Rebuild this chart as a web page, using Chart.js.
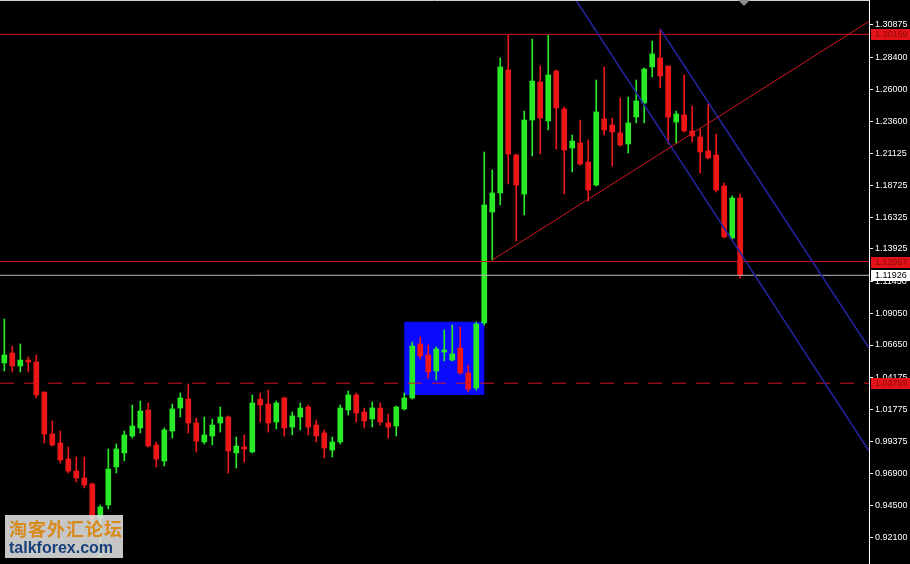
<!DOCTYPE html>
<html>
<head>
<meta charset="utf-8">
<script src="https://cdn.jsdelivr.net/npm/chart.js@4.4.1/dist/chart.umd.min.js"></script>
<style>
    body { margin: 0; background: #000; }
    #wrap { position: relative; width: 910px; height: 564px; overflow: hidden; background: #000; }
    #logo {
        position: absolute; left: 5px; top: 515px; width: 118px; height: 43px;
        background: rgba(225, 225, 225, 0.88);
    }
    #logo .cn {
        position: absolute; left: 4px; top: 2px; font-family: "Noto Sans CJK SC"; font-weight: bold;
        font-size: 18px; letter-spacing: 1px; color: #d98a1c; line-height: 22px;
    }
    #logo .en {
        position: absolute; left: 4px; top: 24px; font-family: "Liberation Sans"; font-weight: bold;
        font-size: 16px; color: #173f7a; line-height: 18px;
    }
</style>
</head>
<body>
<div id="wrap">
    <canvas id="myChart" width="910" height="564"></canvas>
    <div id="logo"><div class="cn">淘客外汇论坛</div><div class="en">talkforex.com</div></div>
</div>
<script>
// candles, oldest first
const opens = [1.0529, 1.0604, 1.0506, 1.0551, 1.0536, 1.0309, 0.9991, 0.9923, 0.9802, 0.9711,
    0.9658, 0.9613, 0.9355, 0.9454, 0.9742, 0.9848, 0.9976, 1.0037, 1.0173, 0.9908,
    0.9787, 1.0014, 1.0188, 1.0256, 1.0075, 0.9931, 0.9976, 1.0075, 1.0120, 0.9848,
    0.9893, 0.9855, 1.0256, 1.0218, 1.0082, 1.0264, 1.0044, 1.0120, 1.0196, 1.0059,
    0.9999, 0.9870, 0.9931, 1.0173, 1.0287, 1.0158, 1.0105, 1.0188, 1.0075, 1.0052,
    1.0181, 1.0264, 1.0673, 1.0589, 1.0468, 1.0612, 1.0551, 1.0642, 1.0453, 1.0340,
    1.0832, 1.1672, 1.1816, 1.2747, 1.2103, 1.1808, 1.2368, 1.2656, 1.2361, 1.2739,
    1.2452, 1.2156, 1.2194, 1.2050, 1.1876, 1.2376, 1.2330, 1.2270, 1.2187, 1.2391,
    1.2497, 1.2770, 1.2838, 1.2777, 1.2353, 1.2406, 1.2285, 1.2240, 1.2134, 1.2103,
    1.1869, 1.1475, 1.1778];
const highs = [1.0862, 1.0657, 1.0673, 1.0574, 1.0589, 1.0309, 1.0090, 1.0014, 0.9893, 0.9817,
    0.9817, 0.9620, 0.9454, 0.9878, 0.9916, 1.0014, 1.0211, 1.0241, 1.0226, 0.9931,
    1.0037, 1.0218, 1.0302, 1.0370, 1.0112, 1.0120, 1.0105, 1.0196, 1.0128, 0.9969,
    0.9984, 1.0287, 1.0302, 1.0324, 1.0241, 1.0271, 1.0158, 1.0226, 1.0211, 1.0097,
    1.0022, 0.9969, 1.0211, 1.0317, 1.0302, 1.0188, 1.0234, 1.0226, 1.0143, 1.0203,
    1.0302, 1.0688, 1.0726, 1.0665, 1.0650, 1.0779, 1.0816, 1.0801, 1.0514, 1.0839,
    1.2126, 1.1990, 1.2838, 1.3012, 1.2111, 1.2436, 1.2981, 1.2777, 1.3012, 1.2747,
    1.2467, 1.2255, 1.2368, 1.2217, 1.2671, 1.2770, 1.2383, 1.2535, 1.2542, 1.2671,
    1.2762, 1.2966, 1.3057, 1.2777, 1.2436, 1.2709, 1.2474, 1.2300, 1.2489, 1.2262,
    1.1891, 1.1793, 1.1808];
const lows = [1.0468, 1.0461, 1.0461, 1.0461, 1.0264, 0.9923, 0.9900, 0.9772, 0.9696, 0.9628,
    0.9583, 0.9302, 0.9068, 0.9424, 0.9696, 0.9787, 0.9961, 0.9999, 0.9893, 0.9742,
    0.9749, 0.9961, 1.0120, 0.9999, 0.9855, 0.9916, 0.9908, 1.0006, 0.9696, 0.9734,
    0.9779, 0.9848, 1.0082, 1.0006, 1.0029, 0.9976, 0.9984, 1.0022, 0.9984, 0.9931,
    0.9810, 0.9817, 0.9916, 1.0135, 1.0082, 1.0037, 1.0044, 1.0059, 0.9961, 0.9976,
    1.0173, 1.0256, 1.0559, 1.0415, 1.0400, 1.0544, 1.0544, 1.0445, 1.0309, 1.0324,
    1.0816, 1.1308, 1.1725, 1.1884, 1.1452, 1.1649, 1.2096, 1.2111, 1.2293, 1.2149,
    1.1808, 1.1975, 1.2028, 1.1755, 1.1869, 1.2255, 1.2020, 1.2171, 1.2118, 1.2346,
    1.2346, 1.2694, 1.2611, 1.2187, 1.2194, 1.2277, 1.2202, 1.1967, 1.2073, 1.1823,
    1.1475, 1.1467, 1.1172];
const closes = [1.0589, 1.0506, 1.0551, 1.0536, 1.0287, 0.9991, 0.9908, 0.9794, 0.9711, 0.9658,
    0.9605, 0.9348, 0.9439, 0.9726, 0.9878, 0.9984, 1.0052, 1.0165, 0.9900, 0.9802,
    1.0022, 1.0181, 1.0264, 1.0075, 0.9938, 0.9984, 1.0059, 1.0120, 0.9863, 0.9900,
    0.9878, 1.0226, 1.0211, 1.0075, 1.0226, 1.0037, 1.0128, 1.0188, 1.0044, 0.9976,
    0.9885, 0.9931, 1.0188, 1.0287, 1.0150, 1.0090, 1.0188, 1.0082, 1.0044, 1.0196,
    1.0264, 1.0657, 1.0582, 1.0461, 1.0635, 1.0627, 1.0597, 1.0453, 1.0332, 1.0824,
    1.1725, 1.1816, 1.2770, 1.2111, 1.1876, 1.2368, 1.2663, 1.2383, 1.2709, 1.2459,
    1.2141, 1.2209, 1.2035, 1.1838, 1.2429, 1.2293, 1.2277, 1.2179, 1.2346, 1.2512,
    1.2754, 1.2868, 1.2701, 1.2391, 1.2414, 1.2285, 1.2247, 1.2126, 1.2081, 1.1838,
    1.1483, 1.1778, 1.1193];

// price axis labels
const tickVals = [1.30875, 1.28400, 1.26000, 1.23600, 1.21125, 1.18725, 1.16325, 1.13925, 1.11450,
    1.09050, 1.06650, 1.04175, 1.01775, 0.99375, 0.96900, 0.94500, 0.92100];

// drawn objects (bar index, price)
const resistLevels = [1.30169, 1.12967];
const supportLevel = 1.03759;
const bidPrice = 1.11926;
const trendLine = [[61, 1.1308], [108.1, 1.3115]];
const channelLow = [[70, 1.3413], [108.1, 0.9862]];
const channelHigh = [[82, 1.3057], [108.1, 1.0642]];
const boxBars = [50, 60];
const boxPrices = [1.0287, 1.0841];

const xMin = -0.54, xMax = 108.1;
const yMin = 0.90072, yMax = 1.32767;

const up = 'rgb(40, 235, 40)';
const down = 'rgb(238, 22, 22)';
const lineRed = '#d01524';
const lineBlue = '#22229a';

const idx = opens.map((o, i) => i);
const candleColor = idx.map(i => closes[i] >= opens[i] ? up : down);

function seg(pts) {
    return pts.map(p => ({ x: p[0], y: p[1] }));
}
function flat(price) {
    return [{ x: xMin, y: price }, { x: xMax, y: price }];
}

const overlays = {
    id: 'overlays',
    beforeDatasetsDraw(chart) {
        const { ctx, scales: { x, y } } = chart;
        const x0 = x.getPixelForValue(boxBars[0]);
        const x1 = x.getPixelForValue(boxBars[1]);
        const y0 = y.getPixelForValue(boxPrices[1]);
        const y1 = y.getPixelForValue(boxPrices[0]);
        ctx.save();
        ctx.fillStyle = '#0a0aff';
        ctx.fillRect(x0, y0, x1 - x0, y1 - y0);
        ctx.restore();
    },
    afterDraw(chart) {
        const { ctx, chartArea, scales: { y } } = chart;
        ctx.save();
        // frame top
        ctx.strokeStyle = '#d0d0d0';
        ctx.lineWidth = 1;
        ctx.beginPath();
        ctx.moveTo(0, 0.5);
        ctx.lineTo(chartArea.right, 0.5);
        ctx.stroke();
        // shift marker
        ctx.fillStyle = '#8a8a8a';
        ctx.beginPath();
        ctx.moveTo(738, 0);
        ctx.lineTo(750, 0);
        ctx.lineTo(744, 6);
        ctx.closePath();
        ctx.fill();
        // price tags on axis
        const tags = resistLevels.concat([supportLevel]).map(p => ({ p: p, bg: '#e31219', fg: '#8c0a0a' }));
        tags.push({ p: bidPrice, bg: '#ffffff', fg: '#000000' });
        ctx.font = '9px "Liberation Sans"';
        ctx.textBaseline = 'middle';
        ctx.textAlign = 'left';
        tags.forEach(t => {
            const py = Math.round(y.getPixelForValue(t.p));
            ctx.fillStyle = t.bg;
            ctx.fillRect(chartArea.right + 2, py - 5, 910 - chartArea.right - 2, 11);
            ctx.fillStyle = t.fg;
            ctx.fillText(t.p.toFixed(5), chartArea.right + 6, py + 0.5);
        });
        ctx.restore();
    }
};

const ctx = document.getElementById('myChart');

new Chart(ctx, {
    type: 'bar',
    data: {
        datasets: [{
            type: 'line',
            data: seg(trendLine),
            borderColor: lineRed,
            borderWidth: 1,
            pointRadius: 0,
            order: 0
        }, {
            type: 'line',
            data: seg(channelLow),
            borderColor: lineBlue,
            borderWidth: 1.6,
            pointRadius: 0,
            order: 0
        }, {
            type: 'line',
            data: seg(channelHigh),
            borderColor: lineBlue,
            borderWidth: 1.6,
            pointRadius: 0,
            order: 0
        }, {
            type: 'line',
            data: flat(resistLevels[0]),
            borderColor: lineRed,
            borderWidth: 1,
            pointRadius: 0,
            order: 0
        }, {
            type: 'line',
            data: flat(resistLevels[1]),
            borderColor: lineRed,
            borderWidth: 1,
            pointRadius: 0,
            order: 0
        }, {
            type: 'line',
            data: flat(supportLevel),
            borderColor: lineRed,
            borderWidth: 1,
            borderDash: [14, 10],
            pointRadius: 0,
            order: 0
        }, {
            type: 'line',
            data: flat(bidPrice),
            borderColor: '#b8b8b8',
            borderWidth: 1,
            pointRadius: 0,
            order: 0
        }, {
            label: 'body',
            data: idx.map(i => ({ x: i, y: [opens[i], closes[i]] })),
            backgroundColor: candleColor,
            barThickness: 5,
            minBarLength: 1,
            grouped: false,
            order: 1
        }, {
            label: 'wick',
            data: idx.map(i => ({ x: i, y: [lows[i], highs[i]] })),
            backgroundColor: candleColor,
            barThickness: 1,
            grouped: false,
            order: 2
        }]
    },
    options: {
        responsive: false,
        devicePixelRatio: 1,
        animation: false,
        layout: { padding: 0 },
        plugins: {
            legend: { display: false },
            tooltip: { enabled: false }
        },
        scales: {
            x: {
                type: 'linear',
                min: xMin,
                max: xMax,
                offset: false,
                display: false
            },
            y: {
                type: 'linear',
                position: 'right',
                min: yMin,
                max: yMax,
                afterBuildTicks: scale => {
                    scale.ticks = tickVals.map(v => ({ value: v }));
                },
                afterFit: scale => {
                    scale.width = 41;
                    scale.paddingTop = 0;
                    scale.paddingBottom = 0;
                },
                border: { display: true, color: '#ffffff', width: 1 },
                grid: {
                    drawOnChartArea: false,
                    drawTicks: true,
                    tickLength: 4,
                    color: '#ffffff'
                },
                ticks: {
                    autoSkip: false,
                    padding: 2,
                    color: '#ffffff',
                    font: { family: 'Liberation Sans', size: 9 },
                    callback: v => Number(v).toFixed(5)
                }
            }
        }
    },
    plugins: [overlays]
});
</script>
</body>
</html>
